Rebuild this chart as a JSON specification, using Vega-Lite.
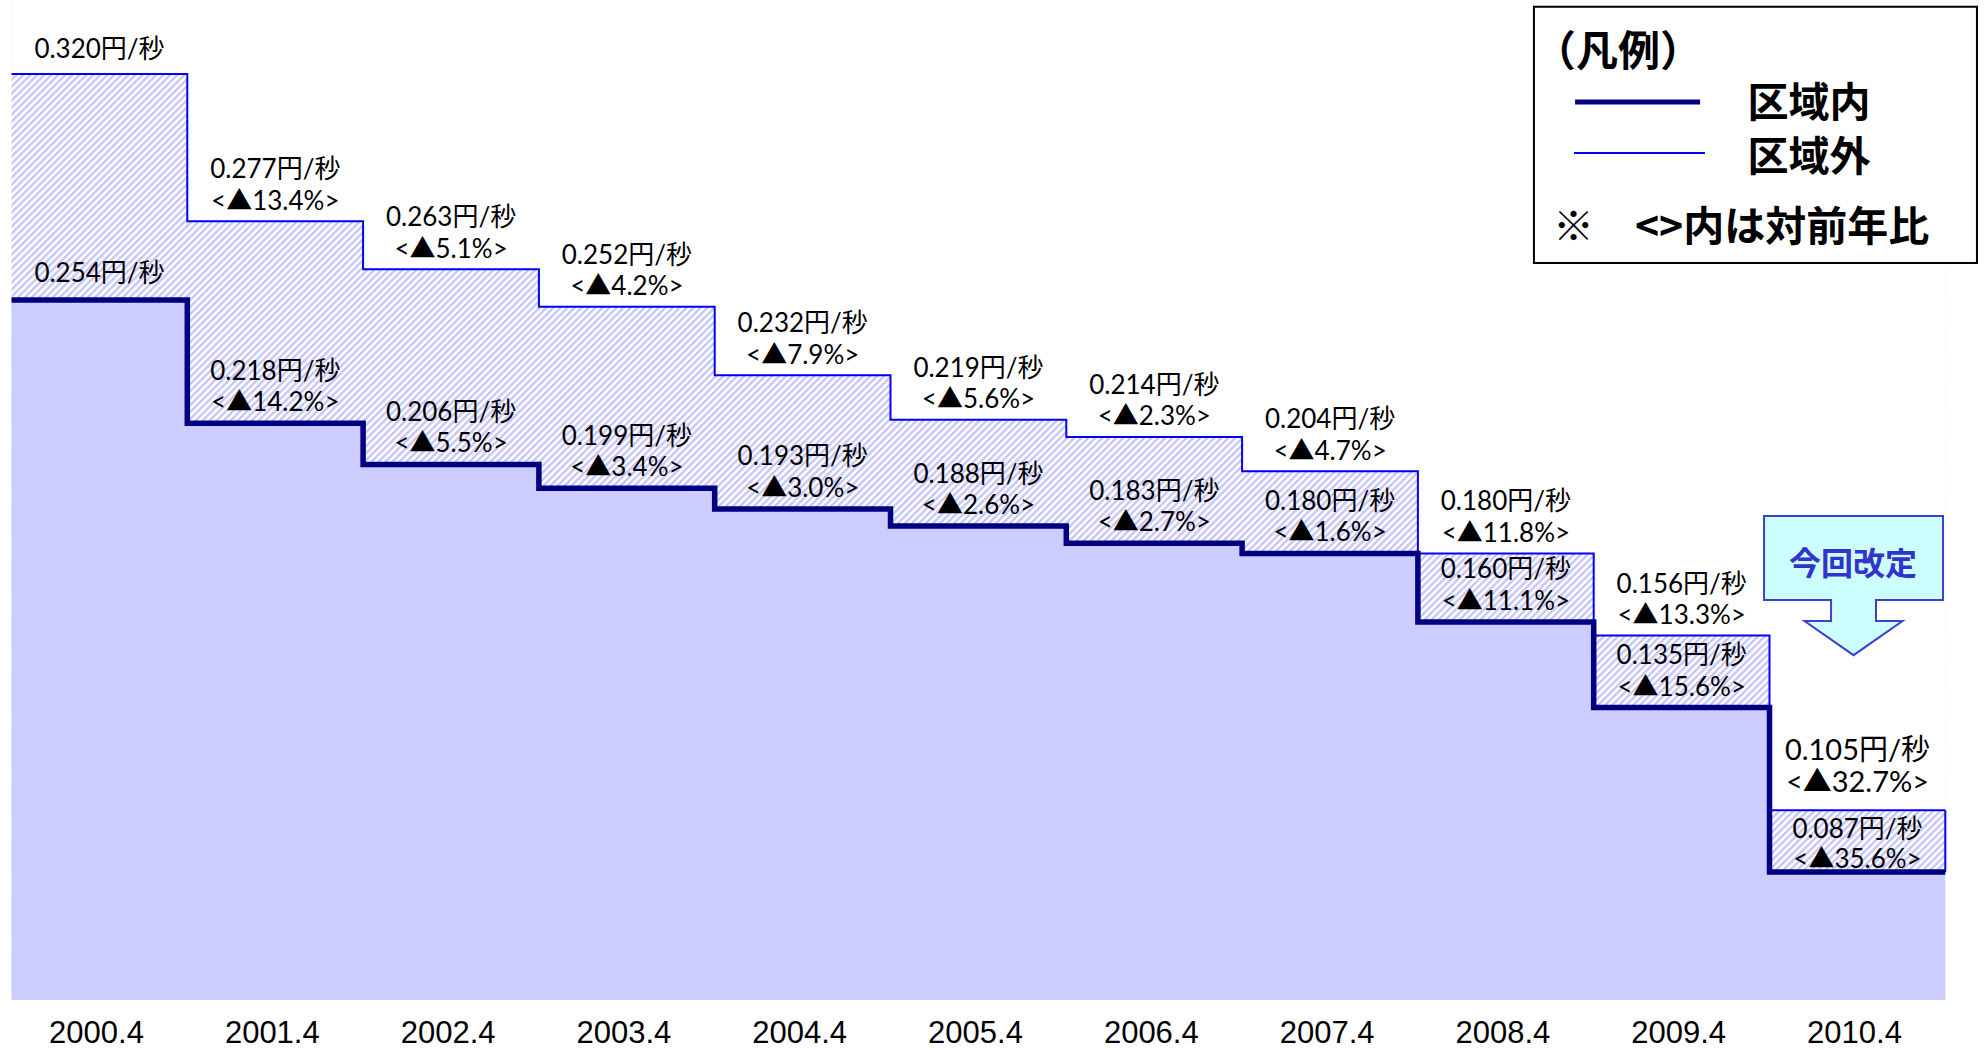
{
  "$schema": "https://vega.github.io/schema/vega-lite/v6.json",
  "width": 1933.8,
  "height": 1000,
  "autosize": {"type": "none"},
  "padding": {"left": 11.5, "top": 0, "right": 38.7, "bottom": 50},
  "background": "white",
  "config": {"view": {"stroke": null}},
  "data": {
    "values": [
      {"year": "2000.4", "t": 0, "outer": 0.320, "inner": 0.254, "outer_label": "0.320円/秒", "inner_label": "0.254円/秒"},
      {"year": "2001.4", "t": 1, "outer": 0.277, "inner": 0.218, "outer_label": "0.277円/秒\n<▲13.4%>", "inner_label": "0.218円/秒\n<▲14.2%>"},
      {"year": "2002.4", "t": 2, "outer": 0.263, "inner": 0.206, "outer_label": "0.263円/秒\n<▲5.1%>", "inner_label": "0.206円/秒\n<▲5.5%>"},
      {"year": "2003.4", "t": 3, "outer": 0.252, "inner": 0.199, "outer_label": "0.252円/秒\n<▲4.2%>", "inner_label": "0.199円/秒\n<▲3.4%>"},
      {"year": "2004.4", "t": 4, "outer": 0.232, "inner": 0.193, "outer_label": "0.232円/秒\n<▲7.9%>", "inner_label": "0.193円/秒\n<▲3.0%>"},
      {"year": "2005.4", "t": 5, "outer": 0.219, "inner": 0.188, "outer_label": "0.219円/秒\n<▲5.6%>", "inner_label": "0.188円/秒\n<▲2.6%>"},
      {"year": "2006.4", "t": 6, "outer": 0.214, "inner": 0.183, "outer_label": "0.214円/秒\n<▲2.3%>", "inner_label": "0.183円/秒\n<▲2.7%>"},
      {"year": "2007.4", "t": 7, "outer": 0.204, "inner": 0.180, "outer_label": "0.204円/秒\n<▲4.7%>", "inner_label": "0.180円/秒\n<▲1.6%>"},
      {"year": "2008.4", "t": 8, "outer": 0.180, "inner": 0.160, "outer_label": "0.180円/秒\n<▲11.8%>", "inner_label": "0.160円/秒\n<▲11.1%>"},
      {"year": "2009.4", "t": 9, "outer": 0.156, "inner": 0.135, "outer_label": "0.156円/秒\n<▲13.3%>", "inner_label": "0.135円/秒\n<▲15.6%>"},
      {"year": "2010.4", "t": 10, "outer": 0.105, "inner": 0.087, "outer_label": "0.105円/秒\n<▲32.7%>", "inner_label": "0.087円/秒\n<▲35.6%>"},
      {"year": null, "t": 11, "outer": 0.105, "inner": 0.087}
    ]
  },
  "layer": [
    {
      "data": {"values": [{}]},
      "mark": {"type": "rule", "clip": true, "strokeWidth": 2400, "strokeDash": [2.5, 2.45], "color": "#c8c8fc"},
      "encoding": {
        "x": {"datum": -1.895, "type": "quantitative", "scale": {"domain": [0, 11], "nice": false, "zero": false}, "axis": null},
        "y": {"datum": 0.5752, "type": "quantitative", "scale": {"domain": [0.0496, 0.3416], "nice": false, "zero": false}, "axis": null},
        "x2": {"datum": 12.895},
        "y2": {"datum": -0.184}
      }
    },
    {
      "mark": {"type": "area", "interpolate": "step-after", "fill": "white", "orient": "vertical"},
      "encoding": {
        "x": {"field": "t", "type": "quantitative", "scale": {"domain": [0, 11], "nice": false, "zero": false}, "axis": null},
        "y": {"field": "outer", "type": "quantitative", "scale": {"domain": [0.0496, 0.3416], "nice": false, "zero": false}, "axis": null},
        "y2": {"datum": 0.3416}
      }
    },
    {
      "mark": {"type": "area", "interpolate": "step-after", "fill": "#ccccff", "orient": "vertical"},
      "encoding": {
        "x": {"field": "t", "type": "quantitative", "scale": {"domain": [0, 11], "nice": false, "zero": false}, "axis": null},
        "y": {"field": "inner", "type": "quantitative", "scale": {"domain": [0.0496, 0.3416], "nice": false, "zero": false}, "axis": null},
        "y2": {"datum": 0.0496}
      }
    },
    {
      "mark": {"type": "line", "interpolate": "step-after", "color": "#0000ff", "strokeWidth": 2},
      "encoding": {
        "x": {"field": "t", "type": "quantitative", "scale": {"domain": [0, 11], "nice": false, "zero": false}, "axis": null},
        "y": {"field": "outer", "type": "quantitative", "scale": {"domain": [0.0496, 0.3416], "nice": false, "zero": false}, "axis": null}
      }
    },
    {
      "transform": [{"filter": "datum.year == null"}],
      "mark": {"type": "rule", "color": "#0000ff", "strokeWidth": 2},
      "encoding": {
        "x": {"field": "t", "type": "quantitative", "scale": {"domain": [0, 11], "nice": false, "zero": false}, "axis": null},
        "y": {"field": "outer", "type": "quantitative", "scale": {"domain": [0.0496, 0.3416], "nice": false, "zero": false}, "axis": null},
        "y2": {"field": "inner"}
      }
    },
    {
      "mark": {"type": "line", "interpolate": "step-after", "color": "#000080", "strokeWidth": 5.5},
      "encoding": {
        "x": {"field": "t", "type": "quantitative", "scale": {"domain": [0, 11], "nice": false, "zero": false}, "axis": null},
        "y": {"field": "inner", "type": "quantitative", "scale": {"domain": [0.0496, 0.3416], "nice": false, "zero": false}, "axis": null}
      }
    },
    {
      "transform": [{"filter": "datum.year != null && datum.year != '2000.4' && datum.year != '2010.4'"}],
      "mark": {"type": "text", "align": "center", "baseline": "bottom", "dx": 88, "dy": -38, "fontSize": 26, "lineHeight": 31.5, "lineBreak": "\n", "font": "Lato, Noto Sans CJK JP", "color": "black"},
      "encoding": {
        "x": {"field": "t", "type": "quantitative", "scale": {"domain": [0, 11], "nice": false, "zero": false}, "axis": null},
        "y": {"field": "outer", "type": "quantitative", "scale": {"domain": [0.0496, 0.3416], "nice": false, "zero": false}, "axis": null},
        "text": {"field": "outer_label"}
      }
    },
    {
      "transform": [{"filter": "datum.year == '2000.4'"}],
      "mark": {"type": "text", "align": "center", "baseline": "bottom", "dx": 88, "dy": -11, "fontSize": 26, "font": "Lato, Noto Sans CJK JP", "color": "black"},
      "encoding": {
        "x": {"field": "t", "type": "quantitative", "scale": {"domain": [0, 11], "nice": false, "zero": false}, "axis": null},
        "y": {"field": "outer", "type": "quantitative", "scale": {"domain": [0.0496, 0.3416], "nice": false, "zero": false}, "axis": null},
        "text": {"field": "outer_label"}
      }
    },
    {
      "transform": [{"filter": "datum.year == '2010.4'"}],
      "mark": {"type": "text", "align": "center", "baseline": "bottom", "dx": 88, "dy": -44, "fontSize": 29, "lineHeight": 32, "lineBreak": "\n", "font": "Lato, Noto Sans CJK JP", "color": "black"},
      "encoding": {
        "x": {"field": "t", "type": "quantitative", "scale": {"domain": [0, 11], "nice": false, "zero": false}, "axis": null},
        "y": {"field": "outer", "type": "quantitative", "scale": {"domain": [0.0496, 0.3416], "nice": false, "zero": false}, "axis": null},
        "text": {"field": "outer_label"}
      }
    },
    {
      "transform": [{"filter": "datum.year != null && datum.year != '2000.4' && datum.year != '2010.4'"}],
      "mark": {"type": "text", "align": "center", "baseline": "bottom", "dx": 88, "dy": -38.5, "fontSize": 26, "lineHeight": 31.5, "lineBreak": "\n", "font": "Lato, Noto Sans CJK JP", "color": "black"},
      "encoding": {
        "x": {"field": "t", "type": "quantitative", "scale": {"domain": [0, 11], "nice": false, "zero": false}, "axis": null},
        "y": {"field": "inner", "type": "quantitative", "scale": {"domain": [0.0496, 0.3416], "nice": false, "zero": false}, "axis": null},
        "text": {"field": "inner_label"}
      }
    },
    {
      "transform": [{"filter": "datum.year == '2000.4'"}],
      "mark": {"type": "text", "align": "center", "baseline": "bottom", "dx": 88, "dy": -13, "fontSize": 26, "font": "Lato, Noto Sans CJK JP", "color": "black"},
      "encoding": {
        "x": {"field": "t", "type": "quantitative", "scale": {"domain": [0, 11], "nice": false, "zero": false}, "axis": null},
        "y": {"field": "inner", "type": "quantitative", "scale": {"domain": [0.0496, 0.3416], "nice": false, "zero": false}, "axis": null},
        "text": {"field": "inner_label"}
      }
    },
    {
      "transform": [{"filter": "datum.year == '2010.4'"}],
      "mark": {"type": "text", "align": "center", "baseline": "bottom", "dx": 88, "dy": -28.5, "fontSize": 26, "lineHeight": 29.5, "lineBreak": "\n", "font": "Lato, Noto Sans CJK JP", "color": "black"},
      "encoding": {
        "x": {"field": "t", "type": "quantitative", "scale": {"domain": [0, 11], "nice": false, "zero": false}, "axis": null},
        "y": {"field": "inner", "type": "quantitative", "scale": {"domain": [0.0496, 0.3416], "nice": false, "zero": false}, "axis": null},
        "text": {"field": "inner_label"}
      }
    },
    {
      "transform": [{"filter": "datum.year != null"}],
      "mark": {"type": "text", "align": "center", "baseline": "middle", "dx": 85, "dy": 34, "fontSize": 31, "font": "Liberation Sans", "color": "black"},
      "encoding": {
        "x": {"field": "t", "type": "quantitative", "scale": {"domain": [0, 11], "nice": false, "zero": false}, "axis": null},
        "y": {"datum": 0.0496, "type": "quantitative", "scale": {"domain": [0.0496, 0.3416], "nice": false, "zero": false}, "axis": null},
        "text": {"field": "year"}
      }
    },
    {
      "data": {"values": [{}]},
      "mark": {"type": "rect", "fill": "white", "stroke": "black", "strokeWidth": 2},
      "encoding": {
        "x": {"datum": 8.66, "type": "quantitative", "scale": {"domain": [0, 11], "nice": false, "zero": false}, "axis": null},
        "x2": {"datum": 11.18},
        "y": {"datum": 0.3396, "type": "quantitative", "scale": {"domain": [0.0496, 0.3416], "nice": false, "zero": false}, "axis": null},
        "y2": {"datum": 0.2648}
      }
    },
    {
      "data": {"values": [{}]},
      "mark": {"type": "rule", "color": "#000080", "strokeWidth": 5},
      "encoding": {
        "x": {"datum": 8.894, "type": "quantitative", "scale": {"domain": [0, 11], "nice": false, "zero": false}, "axis": null},
        "x2": {"datum": 9.605},
        "y": {"datum": 0.3118, "type": "quantitative", "scale": {"domain": [0.0496, 0.3416], "nice": false, "zero": false}, "axis": null}
      }
    },
    {
      "data": {"values": [{}]},
      "mark": {"type": "rule", "color": "#0000ff", "strokeWidth": 2},
      "encoding": {
        "x": {"datum": 8.888, "type": "quantitative", "scale": {"domain": [0, 11], "nice": false, "zero": false}, "axis": null},
        "x2": {"datum": 9.633},
        "y": {"datum": 0.2969, "type": "quantitative", "scale": {"domain": [0.0496, 0.3416], "nice": false, "zero": false}, "axis": null}
      }
    },
    {
      "data": {"values": [{}]},
      "mark": {"type": "text", "align": "left", "baseline": "middle", "fontSize": 42, "fontWeight": "bold", "font": "Lato, Noto Sans CJK JP", "color": "black"},
      "encoding": {
        "x": {"datum": 8.66, "type": "quantitative", "scale": {"domain": [0, 11], "nice": false, "zero": false}, "axis": null},
        "y": {"datum": 0.3262, "type": "quantitative", "scale": {"domain": [0.0496, 0.3416], "nice": false, "zero": false}, "axis": null},
        "text": {"value": "（凡例）"}
      }
    },
    {
      "data": {"values": [{}]},
      "mark": {"type": "text", "align": "left", "baseline": "middle", "fontSize": 41, "fontWeight": "bold", "font": "Lato, Noto Sans CJK JP", "color": "black"},
      "encoding": {
        "x": {"datum": 9.875, "type": "quantitative", "scale": {"domain": [0, 11], "nice": false, "zero": false}, "axis": null},
        "y": {"datum": 0.3110, "type": "quantitative", "scale": {"domain": [0.0496, 0.3416], "nice": false, "zero": false}, "axis": null},
        "text": {"value": "区域内"}
      }
    },
    {
      "data": {"values": [{}]},
      "mark": {"type": "text", "align": "left", "baseline": "middle", "fontSize": 41, "fontWeight": "bold", "font": "Lato, Noto Sans CJK JP", "color": "black"},
      "encoding": {
        "x": {"datum": 9.875, "type": "quantitative", "scale": {"domain": [0, 11], "nice": false, "zero": false}, "axis": null},
        "y": {"datum": 0.2953, "type": "quantitative", "scale": {"domain": [0.0496, 0.3416], "nice": false, "zero": false}, "axis": null},
        "text": {"value": "区域外"}
      }
    },
    {
      "data": {"values": [{}]},
      "mark": {"type": "text", "align": "left", "baseline": "middle", "fontSize": 41, "fontWeight": "bold", "font": "Noto Sans CJK JP", "color": "black"},
      "encoding": {
        "x": {"datum": 8.768, "type": "quantitative", "scale": {"domain": [0, 11], "nice": false, "zero": false}, "axis": null},
        "y": {"datum": 0.2746, "type": "quantitative", "scale": {"domain": [0.0496, 0.3416], "nice": false, "zero": false}, "axis": null},
        "text": {"value": "※　<>内は対前年比"}
      }
    },
    {
      "data": {"values": [{}]},
      "mark": {"type": "point", "shape": "M-1,-0.777L1,-0.777L1,0.162L0.251,0.162L0.251,0.396L0.547,0.396L0,0.777L-0.547,0.396L-0.251,0.396L-0.251,0.162L-1,0.162Z", "size": 32041, "filled": true, "fill": "#ccffff", "stroke": "#3f3fcf", "strokeWidth": 2, "opacity": 1},
      "encoding": {
        "x": {"datum": 10.478, "type": "quantitative", "scale": {"domain": [0, 11], "nice": false, "zero": false}, "axis": null},
        "y": {"datum": 0.1706, "type": "quantitative", "scale": {"domain": [0.0496, 0.3416], "nice": false, "zero": false}, "axis": null}
      }
    },
    {
      "data": {"values": [{}]},
      "mark": {"type": "text", "align": "center", "baseline": "middle", "fontSize": 32, "fontWeight": "bold", "font": "Noto Sans CJK JP", "color": "#3333cc"},
      "encoding": {
        "x": {"datum": 10.475, "type": "quantitative", "scale": {"domain": [0, 11], "nice": false, "zero": false}, "axis": null},
        "y": {"datum": 0.1766, "type": "quantitative", "scale": {"domain": [0.0496, 0.3416], "nice": false, "zero": false}, "axis": null},
        "text": {"value": "今回改定"}
      }
    }
  ]
}
